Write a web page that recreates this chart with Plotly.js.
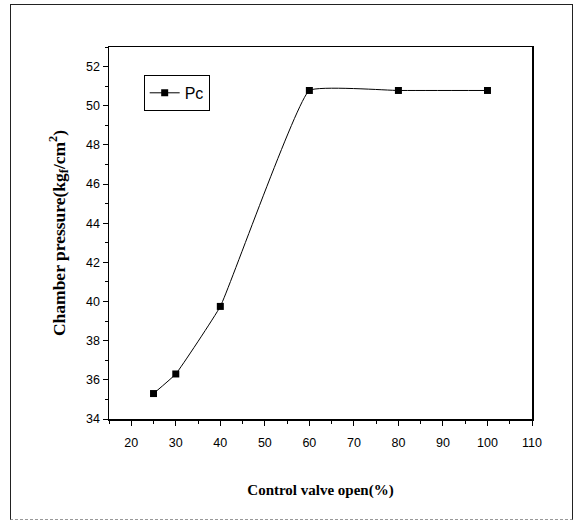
<!DOCTYPE html>
<html>
<head>
<meta charset="utf-8">
<script src="https://cdn.plot.ly/plotly-3.0.1.min.js"></script>
<style>
  html, body { margin: 0; padding: 0; background: #fff; }
  #wrap { position: relative; width: 575px; height: 522px; }
  #chart { width: 575px; height: 522px; }
  #frame { position: absolute; left: 10px; top: 4px; width: 563px; height: 516px;
           border-left: 1.5px solid #222; border-top: 1.5px solid #222; border-right: 1.5px solid #222;
           border-bottom: 1.5px dashed #999; pointer-events: none; box-sizing: border-box; }
</style>
</head>
<body>
<div id="wrap">
  <div id="chart"></div>
  <div id="frame"></div>
</div>
<script>
// Data
const valveOpen = [25, 30, 40, 60, 80, 100];
const chamberPressure = [35.3, 36.3, 39.75, 50.78, 50.78, 50.78];
const seriesName = 'Pc';
const xTickVals = [20, 30, 40, 50, 60, 70, 80, 90, 100, 110];
const yTickVals = [34, 36, 38, 40, 42, 44, 46, 48, 50, 52];

const trace = {
  x: valveOpen,
  y: chamberPressure,
  name: seriesName,
  type: 'scatter',
  mode: 'lines+markers',
  line: { color: '#000', width: 1, shape: 'spline', smoothing: 0.3 },
  marker: { symbol: 'square', size: 7, color: '#000' }
};

const layout = {
  width: 575, height: 522,
  margin: { l: 109, r: 43, t: 47, b: 103 },
  paper_bgcolor: '#fff', plot_bgcolor: '#fff',
  showlegend: true,
  legend: {
    x: 0.082, y: 0.925, xanchor: 'left', yanchor: 'top',
    bordercolor: '#000', borderwidth: 1, bgcolor: '#fff',
    font: { family: 'Liberation Sans, Arial, sans-serif', size: 16, color: '#000' },
    itemwidth: 30, tracegroupgap: 0
  },
  xaxis: {
    range: [15, 110], tickvals: xTickVals, ticktext: xTickVals.map(String),
    ticks: 'outside', ticklen: 5, tickwidth: 1, tickcolor: '#000', ticklabelstandoff: 6,
    minor: { dtick: 5, tick0: 0, ticks: 'outside', ticklen: 3, tickcolor: '#000', showgrid: false },
    showline: true, linecolor: '#000', linewidth: 1.5, mirror: true,
    showgrid: false, zeroline: false,
    tickfont: { family: 'Liberation Sans, Arial, sans-serif', size: 12.5, color: '#000' },
    title: { text: '<b>Control valve open(%)</b>', standoff: 36,
             font: { family: 'Liberation Serif, Times New Roman, serif', size: 15, color: '#000' } }
  },
  yaxis: {
    range: [34, 53], tickvals: yTickVals, ticktext: yTickVals.map(String),
    ticks: 'outside', ticklen: 5, tickwidth: 1, tickcolor: '#000',
    minor: { dtick: 1, tick0: 0, ticks: 'outside', ticklen: 3, tickcolor: '#000', showgrid: false },
    showline: true, linecolor: '#000', linewidth: 1.5, mirror: true,
    showgrid: false, zeroline: false,
    tickfont: { family: 'Liberation Sans, Arial, sans-serif', size: 12.5, color: '#000' },
    title: { text: '<b>Chamber pressure(kg<sub>f</sub>/cm<sup>2</sup>)</b>', standoff: 16,
             font: { family: 'Liberation Serif, Times New Roman, serif', size: 17.5, color: '#000' } }
  }
};

Plotly.newPlot('chart', [trace], layout, { displayModeBar: false, staticPlot: true });
</script>
</body>
</html>
